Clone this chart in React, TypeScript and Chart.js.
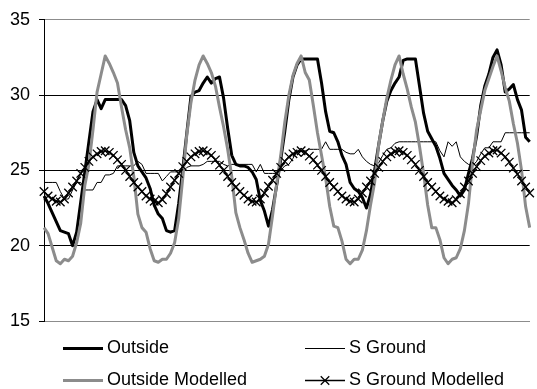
import React, { useEffect, useRef } from 'react';
import { Chart, registerables } from 'chart.js';

Chart.register(...registerables);

const FONT = '"Liberation Sans", Arial, Helvetica, sans-serif';

// hourly categories (5 days x 24 h)
const hours = [
  1, 2, 3, 4, 5, 6, 7, 8, 9, 10, 11, 12, 13, 14, 15, 16, 17, 18, 19, 20, 21, 22, 23, 24,
  25, 26, 27, 28, 29, 30, 31, 32, 33, 34, 35, 36, 37, 38, 39, 40, 41, 42, 43, 44, 45, 46, 47, 48,
  49, 50, 51, 52, 53, 54, 55, 56, 57, 58, 59, 60, 61, 62, 63, 64, 65, 66, 67, 68, 69, 70, 71, 72,
  73, 74, 75, 76, 77, 78, 79, 80, 81, 82, 83, 84, 85, 86, 87, 88, 89, 90, 91, 92, 93, 94, 95, 96,
  97, 98, 99, 100, 101, 102, 103, 104, 105, 106, 107, 108, 109, 110, 111, 112, 113, 114, 115, 116, 117, 118, 119, 120,
];

const outside = [
  23.3, 22.8, 22.2, 21.6, 21.0, 20.9, 20.8, 20.0, 20.9, 22.9, 24.9, 26.9, 28.9, 29.7, 29.1, 29.7, 29.7, 29.7, 29.7, 29.7, 29.3, 28.3, 26.2, 25.3,
  24.9, 24.5, 23.8, 22.7, 22.1, 21.8, 21.0, 20.9, 21.0, 22.8, 25.1, 27.5, 29.9, 30.2, 30.3, 30.8, 31.2, 30.8, 31.1, 31.2, 29.8, 27.8, 26.0, 25.4,
  25.3, 25.3, 25.2, 24.9, 24.4, 23.0, 22.3, 21.3, 22.4, 24.0, 25.7, 27.6, 29.7, 31.2, 32.0, 32.4, 32.4, 32.4, 32.4, 32.4, 30.8, 28.9, 27.6, 27.5,
  26.9, 26.0, 25.4, 24.2, 23.8, 23.6, 23.2, 22.5, 23.4, 25.0, 26.7, 28.3, 29.6, 30.3, 30.8, 31.2, 32.3, 32.4, 32.4, 32.4, 30.6, 28.8, 27.6, 27.1,
  26.6, 25.8, 24.8, 24.4, 24.0, 23.7, 23.3, 23.7, 24.8, 25.8, 27.3, 29.3, 30.6, 31.4, 32.5, 33.0, 32.0, 30.2, 30.4, 30.7, 29.7, 29.0, 27.2, 26.9,
];

const sGround = [
  24.2, 24.2, 24.2, 24.2, 23.6, 23.1, 23.1, 23.7, 24.2, 24.2, 23.7, 23.7, 23.7, 24.2, 24.2, 24.7, 24.7, 24.8, 25.3, 25.3, 25.3, 25.3, 25.3, 25.6,
  25.4, 24.8, 24.8, 24.8, 24.8, 24.3, 24.6, 24.9, 24.9, 24.9, 24.9, 25.2, 25.3, 25.3, 25.3, 25.4, 25.6, 25.6, 25.6, 25.6, 25.4, 25.3, 25.4, 25.4,
  25.4, 25.4, 25.4, 25.4, 24.9, 25.4, 24.8, 24.8, 24.8, 24.8, 25.0, 25.3, 25.4, 25.8, 26.3, 26.3, 26.3, 26.4, 26.4, 26.4, 26.4, 26.9, 26.4, 26.4,
  26.4, 26.4, 26.2, 26.1, 26.1, 26.4, 25.9, 25.6, 25.4, 25.3, 25.5, 26.0, 26.4, 26.5, 26.8, 26.9, 26.9, 26.9, 26.9, 26.9, 26.9, 26.9, 26.9, 26.9,
  26.9, 26.3, 25.9, 26.9, 26.6, 26.9, 25.9, 25.6, 25.4, 25.3, 25.6, 26.1, 26.5, 26.5, 26.9, 26.9, 26.9, 27.5, 27.5, 27.5, 27.5, 27.5, 27.5, 27.5,
];

const outsideModelled = [
  21.2, 20.8, 19.9, 19.0, 18.8, 19.1, 19.0, 19.3, 20.2, 21.5, 24.0, 25.4, 27.7, 30.2, 31.4, 32.6, 32.1, 31.5, 30.8, 29.2, 27.7, 26.5, 24.6, 22.1,
  21.2, 20.9, 19.8, 19.0, 18.9, 19.1, 19.1, 19.5, 20.2, 21.8, 24.5, 27.4, 29.5, 31.0, 32.0, 32.6, 32.1, 31.5, 30.6, 29.2, 27.9, 26.4, 24.6, 22.2,
  21.2, 20.4, 19.5, 18.9, 19.0, 19.1, 19.3, 20.1, 22.0, 24.1, 26.0, 28.2, 30.0, 31.3, 32.1, 32.6, 31.5, 31.0, 29.3, 27.5, 26.0, 24.5, 22.6, 21.3,
  21.2, 20.3, 19.1, 18.8, 19.1, 19.1, 19.7, 21.0, 22.7, 24.2, 26.7, 28.3, 29.8, 31.0, 32.0, 32.6, 31.4, 30.4, 29.2, 28.2, 26.6, 24.8, 22.7, 21.2,
  21.2, 20.4, 19.2, 18.8, 19.1, 19.2, 19.8, 21.0, 22.8, 25.5, 27.7, 29.0, 30.3, 31.1, 31.9, 32.6, 31.6, 30.5, 29.6, 28.1, 26.8, 25.0, 22.6, 21.2,
];

const sGroundModelled = [
  23.6, 23.3, 23.1, 22.95, 22.9, 23.1, 23.5, 23.9, 24.3, 24.8, 25.2, 25.6, 25.9, 26.1, 26.25, 26.3, 26.2, 26.0, 25.7, 25.4, 25.0, 24.6, 24.2, 23.9,
  23.6, 23.3, 23.1, 22.95, 22.85, 23.05, 23.45, 23.9, 24.35, 24.8, 25.25, 25.6, 25.9, 26.1, 26.25, 26.3, 26.2, 26.0, 25.7, 25.35, 25.0, 24.6, 24.2, 23.9,
  23.6, 23.35, 23.1, 22.95, 22.9, 23.1, 23.5, 23.95, 24.35, 24.8, 25.2, 25.6, 25.9, 26.1, 26.2, 26.3, 26.2, 25.95, 25.7, 25.35, 25.0, 24.6, 24.2, 23.9,
  23.6, 23.3, 23.1, 22.95, 22.9, 23.1, 23.5, 23.9, 24.3, 24.8, 25.2, 25.6, 25.9, 26.1, 26.25, 26.3, 26.2, 26.0, 25.7, 25.4, 25.0, 24.6, 24.2, 23.9,
  23.6, 23.3, 23.1, 22.95, 22.85, 23.05, 23.45, 23.9, 24.3, 24.8, 25.25, 25.65, 25.95, 26.15, 26.3, 26.35, 26.15, 25.9, 25.55, 25.15, 24.75, 24.3, 23.9, 23.5,
];

const yTicks = [15, 20, 25, 30, 35];

const GRAY = '#8c8c8c';

// legend grid: two columns, two rows (dataset index order)
const legendSlots = [
  { col: 0, row: 0 },
  { col: 1, row: 0 },
  { col: 0, row: 1 },
  { col: 1, row: 1 },
];

const gridLegend = {
  id: 'gridLegend',
  afterDraw(chart: any) {
    const ctx = chart.ctx as CanvasRenderingContext2D;
    const colX = [63, 305];
    const sampleW = 40;
    const lineY = [348.5, 380.5];
    const baseY = [352.5, 384.5];
    ctx.save();
    ctx.font = `18px ${FONT}`;
    ctx.textAlign = 'left';
    ctx.textBaseline = 'alphabetic';
    chart.data.datasets.forEach((ds: any, i: number) => {
      const slot = legendSlots[i];
      const x0 = colX[slot.col];
      const y = lineY[slot.row];
      ctx.strokeStyle = ds.borderColor;
      ctx.lineWidth = ds.borderWidth;
      ctx.lineCap = 'butt';
      ctx.beginPath();
      ctx.moveTo(x0, y);
      ctx.lineTo(x0 + sampleW, y);
      ctx.stroke();
      if (ds.pointStyle === 'crossRot') {
        const cx = x0 + sampleW / 2;
        const r = ds.pointRadius * Math.SQRT1_2;
        ctx.lineWidth = ds.pointBorderWidth;
        ctx.beginPath();
        ctx.moveTo(cx - r, y - r);
        ctx.lineTo(cx + r, y + r);
        ctx.moveTo(cx - r, y + r);
        ctx.lineTo(cx + r, y - r);
        ctx.stroke();
      }
      ctx.fillStyle = '#000';
      ctx.fillText(ds.label, x0 + sampleW + 4, baseY[slot.row]);
    });
    ctx.restore();
  },
};

export default function App() {
  const canvasRef = useRef<HTMLCanvasElement | null>(null);

  useEffect(() => {
    const canvas = canvasRef.current;
    if (!canvas) return;
    Chart.defaults.font.family = FONT;
    const chart = new Chart(canvas, {
      type: 'line',
      data: {
        labels: hours,
        datasets: [
          {
            label: 'Outside',
            data: outside,
            borderColor: '#000000',
            borderWidth: 3,
            pointRadius: 0,
            tension: 0,
            borderJoinStyle: 'round',
            order: 3,
          },
          {
            label: 'S Ground',
            data: sGround,
            borderColor: '#000000',
            borderWidth: 1,
            pointRadius: 0,
            tension: 0,
            order: 2,
          },
          {
            label: 'Outside Modelled',
            data: outsideModelled,
            borderColor: GRAY,
            borderWidth: 3,
            pointRadius: 0,
            tension: 0,
            borderJoinStyle: 'round',
            order: 1,
          },
          {
            label: 'S Ground Modelled',
            data: sGroundModelled,
            borderColor: '#000000',
            borderWidth: 1.5,
            pointStyle: 'crossRot',
            pointRadius: 6,
            pointBorderWidth: 1.3,
            pointBorderColor: '#000000',
            pointBackgroundColor: '#000000',
            tension: 0,
            order: 0,
          },
        ],
      },
      options: {
        responsive: false,
        animation: false,
        events: [],
        layout: { padding: { top: 18, right: 1, bottom: 68, left: 0 } },
        plugins: {
          legend: { display: false },
          tooltip: { enabled: false },
          title: { display: false },
        },
        scales: {
          x: {
            type: 'category',
            offset: false,
            grid: { display: false, drawTicks: false },
            ticks: { display: false },
            border: { display: true, color: GRAY, width: 1 },
            afterFit: (s: any) => {
              s.height = 0;
            },
          },
          y: {
            min: yTicks[0],
            max: yTicks[yTicks.length - 1],
            afterBuildTicks: (s: any) => {
              s.ticks = yTicks.map((v) => ({ value: v }));
            },
            ticks: {
              color: '#000000',
              padding: 9,
              font: { family: FONT, size: 18 },
            },
            grid: {
              color: (c: any) =>
                c.tick && (c.tick.value === 35 || c.tick.value === 15) ? GRAY : '#000000',
              lineWidth: 1,
              tickLength: 5,
              tickColor: '#000000',
              drawTicks: true,
            },
            border: { display: true, color: '#000000', width: 1 },
            afterFit: (s: any) => {
              s.width = 44;
            },
          },
        },
      },
      plugins: [gridLegend],
    } as any);
    return () => chart.destroy();
  }, []);

  return (
    <div style={{ position: 'absolute', left: 0, top: 0, width: 537, height: 389, background: '#fff' }}>
      <canvas ref={canvasRef} width={537} height={389} style={{ display: 'block' }} />
    </div>
  );
}
